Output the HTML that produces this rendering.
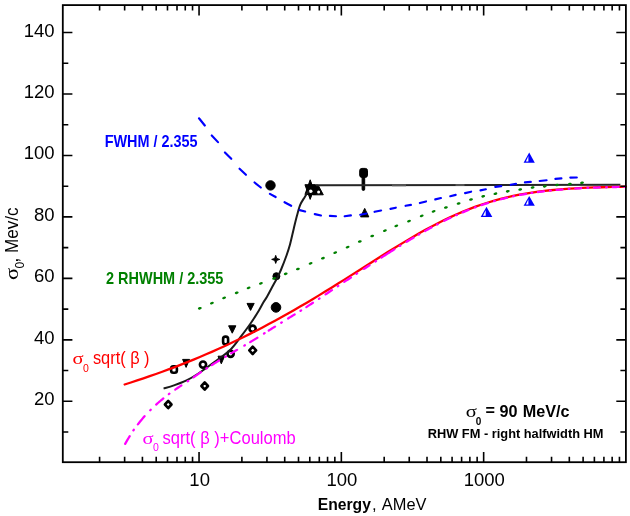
<!DOCTYPE html><html><head><meta charset="utf-8"><title>sigma0 vs Energy</title><style>html,body{margin:0;padding:0;background:#fff;}svg{display:block;will-change:transform;filter:blur(0.3px);}text{font-family:"Liberation Sans",Arial,sans-serif;}</style></head><body>
<svg width="630" height="516" viewBox="0 0 630 516">
<rect width="630" height="516" fill="#fff"/>
<g fill="#000" stroke="#000" stroke-width="1" stroke-linejoin="round"><circle cx="270.5" cy="185.4" r="4.7"/><polygon points="310.20,179.80 315.46,194.50 304.94,194.50"/><polygon points="315.46,184.70 310.20,199.40 304.94,184.70"/><polygon points="312.5,185.2 318.2,185.2 323.3,194.8 312.5,194.8"/><rect x="359.7" y="168.4" width="7.8" height="9" rx="2.2"/><rect x="362.1" y="176" width="2.6" height="14.4" rx="1.2"/><polygon points="364.70000000000005,208.4 368.8,216.9 360.6,216.9"/><polygon points="275.70,255.40 276.69,258.41 279.70,259.40 276.69,260.39 275.70,263.40 274.71,260.39 271.70,259.40 274.71,258.41"/><circle cx="276.4" cy="276.2" r="3.5"/><circle cx="276" cy="307.4" r="4.8"/><polygon points="247,303.4 254.2,303.4 250.6,310.4"/><polygon points="228.6,325.8 235.9,325.8 232.25,333.2"/><polygon points="182.6,359.4 189.6,359.4 186.1,367.4"/><polygon points="218,356.2 224.6,356.2 221.3,363.8"/></g><g fill="#fff"><circle cx="310.7" cy="191.3" r="1.8"/><circle cx="318.6" cy="192" r="1.5"/></g><g fill="#fff" stroke="#000" stroke-width="2.6" stroke-linejoin="round"><rect x="171.1" y="366.2" width="5.8" height="6.6" rx="2.2"/><rect x="223.1" y="336.6" width="5" height="7.8" rx="2.3"/><circle cx="203" cy="364.6" r="3.1"/><circle cx="252.6" cy="328.7" r="3.1"/><circle cx="230.6" cy="353.8" r="3.1"/><polygon points="204.7,382.4 208.0,386.0 204.7,389.6 201.39999999999998,386.0"/><polygon points="168.2,400.9 171.5,404.5 168.2,408.1 164.89999999999998,404.5"/><polygon points="252.7,346.6 256.09999999999997,350.3 252.7,354.0 249.29999999999998,350.3"/></g><polygon points="486.5,206.8 492.3,217.0 480.7,217.0" fill="#0000ff"/><polygon points="485.70,210.27 485.70,215.80 483.00,215.80" fill="#fff"/><polygon points="529.2,152.6 534.8000000000001,162.8 523.6,162.8" fill="#0000ff"/><polygon points="528.40,156.07 528.40,161.60 525.90,161.60" fill="#fff"/><polygon points="529.2,196.0 534.8000000000001,205.8 523.6,205.8" fill="#0000ff"/><polygon points="528.40,199.33 528.40,204.60 525.90,204.60" fill="#fff"/>
<path d="M163.60 388.60C165.32 388.07 170.08 386.77 173.90 385.40C177.72 384.03 182.42 382.38 186.50 380.40C190.58 378.42 193.82 376.52 198.40 373.50C202.98 370.48 208.67 366.27 214.00 362.30C219.33 358.33 225.87 354.05 230.40 349.70C234.93 345.35 237.82 340.60 241.20 336.20C244.58 331.80 247.75 327.60 250.70 323.30C253.65 319.00 256.80 313.87 258.90 310.40C261.00 306.93 261.95 304.77 263.30 302.50C264.65 300.23 265.33 299.72 267.00 296.80C268.67 293.88 271.62 288.12 273.30 285.00C274.98 281.88 275.80 280.68 277.10 278.10C278.40 275.52 279.53 273.27 281.10 269.50C282.67 265.73 285.02 259.67 286.50 255.50C287.98 251.33 288.78 249.02 290.00 244.50C291.22 239.98 292.63 233.23 293.80 228.40C294.97 223.57 295.93 219.42 297.00 215.50C298.07 211.58 298.95 207.92 300.20 204.90C301.45 201.88 303.08 199.72 304.50 197.40C305.92 195.08 308.00 192.07 308.70 191.00" fill="none" stroke="#1a1a1a" stroke-width="2.0"/>
<path d="M316 185.3L620.4 184.8" fill="none" stroke="#262626" stroke-width="2.1"/>
<path d="M392 185.1H406M455.5 185H464.5" fill="none" stroke="#555" stroke-width="2.1"/>
<path d="M124.64 384.50L130.91 382.50L137.18 380.46L143.44 378.36L149.71 376.20L155.98 374.00L162.24 371.74L168.51 369.42L174.77 367.05L181.04 364.62L187.31 362.14L193.57 359.59L199.84 356.98L206.11 354.31L212.37 351.58L218.64 348.79L224.91 345.93L231.17 343.01L237.44 340.02L243.70 336.97L249.97 333.85L256.24 330.66L262.50 327.41L268.77 324.10L275.04 320.72L281.30 317.28L287.57 313.77L293.84 310.21L300.10 306.59L306.37 302.91L312.63 299.17L318.90 295.39L325.17 291.56L331.43 287.70L337.70 283.79L343.97 279.85L350.23 275.90L356.50 271.92L362.76 267.94L369.03 263.95L375.30 259.98L381.56 256.02L387.83 252.10L394.10 248.22L400.36 244.39L406.63 240.63L412.90 236.94L419.16 233.34L425.43 229.85L431.69 226.46L437.96 223.20L444.23 220.07L450.49 217.09L456.76 214.25L463.03 211.57L469.29 209.05L475.56 206.70L481.82 204.51L488.09 202.48L494.36 200.62L500.62 198.92L506.89 197.37L513.16 195.97L519.42 194.71L525.69 193.59L531.96 192.59L538.22 191.70L544.49 190.92L550.75 190.24L557.02 189.64L563.29 189.12L569.55 188.68L575.82 188.29L582.09 187.96L588.35 187.68L594.62 187.44L600.88 187.24L607.15 187.06L613.42 186.92L619.68 186.80L625.95 186.69" fill="none" stroke="#ff0000" stroke-width="2.3" stroke-linecap="round"/>
<path d="M125.16 443.89L126.30 441.89L127.45 439.93L128.60 438.01L129.74 436.13M137.87 424.37L138.98 422.95L140.09 421.56L141.20 420.20L142.31 418.85L143.42 417.53L144.53 416.23M156.18 404.54L157.20 403.64L158.22 402.76L159.24 401.87L160.26 401.00L161.28 400.13L162.30 399.27L163.32 398.42M175.24 389.61L176.26 388.92L177.28 388.23L178.30 387.54L179.32 386.85L180.34 386.16L181.36 385.48M193.54 377.30L194.60 376.55L195.66 375.80L196.72 375.06L197.78 374.32L198.84 373.59L199.90 372.85L200.96 372.12M211.76 365.09L212.80 364.44L213.84 363.79L214.88 363.14L215.92 362.49L216.96 361.84L218.00 361.19L219.04 360.54M231.18 353.29L232.35 352.60L233.52 351.92L234.68 351.24L235.85 350.56L237.02 349.88M250.17 342.10L251.21 341.48L252.24 340.85L253.28 340.22L254.32 339.60L255.36 338.97L256.39 338.34L257.43 337.71M268.76 330.52L269.81 329.85L270.85 329.19L271.90 328.54L272.95 327.90L273.99 327.25L275.04 326.60M288.07 318.48L289.16 317.81L290.26 317.14L291.35 316.47L292.44 315.80L293.54 315.12L294.63 314.45M306.35 307.09L307.45 306.37L308.55 305.65L309.65 304.92L310.75 304.20L311.85 303.48L312.95 302.76M325.55 294.42L326.61 293.70L327.68 292.98L328.75 292.26L329.82 291.55L330.89 290.83L331.95 290.11M344.25 281.90L345.37 281.16L346.48 280.43L347.60 279.69L348.72 278.96L349.83 278.23L350.95 277.49M363.95 268.93L365.05 268.21L366.15 267.49L367.25 266.77L368.35 266.05L369.45 265.33M381.46 257.53L382.53 256.84L383.61 256.15L384.68 255.46L385.75 254.78L386.83 254.09L387.90 253.41L388.97 252.72L390.05 252.04L391.12 251.36L392.19 250.69L393.27 250.01L394.34 249.33M406.57 241.78L407.58 241.17L408.59 240.56L409.60 239.96L410.60 239.36L411.61 238.76L412.62 238.16L413.63 237.56M425.09 230.97L426.16 230.37L427.23 229.78L428.30 229.19L429.37 228.60L430.44 228.02L431.51 227.44M444.31 220.80L445.32 220.30L446.34 219.80L447.35 219.31L448.36 218.82L449.38 218.34L450.39 217.86M462.63 212.37L463.80 211.87L464.97 211.39L466.13 210.91L467.30 210.43L468.47 209.97M481.55 205.11L482.62 204.75L483.68 204.39L484.75 204.04L485.82 203.69L486.88 203.35L487.95 203.01M501.07 199.23L502.26 198.93L503.45 198.62L504.65 198.33L505.84 198.03L507.03 197.75M520.19 194.94L521.35 194.72L522.52 194.50L523.68 194.29L524.85 194.08L526.01 193.88M537.89 192.06L538.90 191.92L539.90 191.79L540.90 191.66L541.90 191.53L542.90 191.41L543.91 191.29M556.60 189.95L557.78 189.84L558.96 189.74L560.14 189.63L561.32 189.54L562.50 189.44M575.30 188.55L576.48 188.48L577.66 188.41L578.84 188.35L580.02 188.28L581.20 188.22M594.00 187.66L595.18 187.61L596.36 187.57L597.54 187.53L598.72 187.49L599.90 187.45M612.70 187.10L613.88 187.07L615.06 187.05L616.24 187.02L617.42 187.00L618.60 186.98M133.41 430.39L133.60 430.10L133.79 429.81M150.25 410.26L150.50 410.01L150.75 409.77M168.81 394.07L169.10 393.87L169.39 393.67M187.71 381.21L188.00 381.01L188.29 380.82M206.40 368.48L206.70 368.29L207.00 368.11M225.30 356.79L225.60 356.61L225.90 356.43M244.30 345.63L244.60 345.45L244.90 345.27M264.00 333.55L264.30 333.36L264.60 333.17M281.20 322.77L281.50 322.58L281.80 322.40M300.50 310.81L300.80 310.62L301.10 310.44M318.91 298.83L319.20 298.63L319.49 298.44M337.71 286.24L338.00 286.05L338.29 285.85M356.51 273.83L356.80 273.64L357.09 273.44M375.41 261.45L375.70 261.26L375.99 261.07M399.80 245.93L400.10 245.75L400.40 245.56M418.70 234.60L419.00 234.43L419.30 234.25M437.09 224.48L437.40 224.31L437.71 224.15M456.28 215.14L456.60 214.99L456.92 214.85M474.97 207.46L475.30 207.34L475.63 207.22M494.16 201.13L494.50 201.04L494.84 200.94M513.26 196.34L513.60 196.27L513.94 196.19M531.55 192.98L531.90 192.93L532.25 192.87M550.05 190.59L550.40 190.56L550.75 190.52M568.75 188.97L569.10 188.95L569.45 188.92M587.45 187.92L587.80 187.91L588.15 187.89M606.15 187.27L606.50 187.26L606.85 187.25M624.25 186.87L624.60 186.87L624.95 186.86" fill="none" stroke="#ff00ff" stroke-width="2.25" stroke-linecap="round"/>
<g fill="#008000"><ellipse cx="199.8" cy="308.3" rx="2.0" ry="1.25" transform="rotate(-16 199.8 308.3)"/><ellipse cx="211.9" cy="303.1" rx="2.0" ry="1.25" transform="rotate(-16 211.9 303.1)"/><ellipse cx="224.1" cy="297.9" rx="2.0" ry="1.25" transform="rotate(-16 224.1 297.9)"/><ellipse cx="236.7" cy="292.8" rx="2.0" ry="1.25" transform="rotate(-16 236.7 292.8)"/><ellipse cx="248.6" cy="287.9" rx="2.0" ry="1.25" transform="rotate(-16 248.6 287.9)"/><ellipse cx="260.9" cy="283.4" rx="2.0" ry="1.25" transform="rotate(-16 260.9 283.4)"/><ellipse cx="274.1" cy="278.4" rx="2.0" ry="1.25" transform="rotate(-16 274.1 278.4)"/><ellipse cx="285.7" cy="273.8" rx="2.0" ry="1.25" transform="rotate(-16 285.7 273.8)"/><ellipse cx="297.9" cy="269" rx="2.0" ry="1.25" transform="rotate(-16 297.9 269)"/><ellipse cx="310.6" cy="263.4" rx="2.0" ry="1.25" transform="rotate(-16 310.6 263.4)"/><ellipse cx="322.9" cy="258.2" rx="2.0" ry="1.25" transform="rotate(-16 322.9 258.2)"/><ellipse cx="335.2" cy="252.6" rx="2.0" ry="1.25" transform="rotate(-16 335.2 252.6)"/><ellipse cx="347.6" cy="247.1" rx="2.0" ry="1.25" transform="rotate(-16 347.6 247.1)"/><ellipse cx="359.8" cy="241.5" rx="2.0" ry="1.25" transform="rotate(-16 359.8 241.5)"/><ellipse cx="372.2" cy="236" rx="2.0" ry="1.25" transform="rotate(-16 372.2 236)"/><ellipse cx="384.9" cy="230.6" rx="2.0" ry="1.25" transform="rotate(-16 384.9 230.6)"/><ellipse cx="396.3" cy="225.9" rx="2.0" ry="1.25" transform="rotate(-16 396.3 225.9)"/><ellipse cx="409" cy="221.1" rx="2.0" ry="1.25" transform="rotate(-16 409 221.1)"/><ellipse cx="421.7" cy="215.9" rx="2.0" ry="1.25" transform="rotate(-16 421.7 215.9)"/><ellipse cx="433.6" cy="211.4" rx="2.0" ry="1.25" transform="rotate(-16 433.6 211.4)"/><ellipse cx="445.9" cy="207.5" rx="2.0" ry="1.25" transform="rotate(-16 445.9 207.5)"/><ellipse cx="458.6" cy="203.5" rx="2.0" ry="1.25" transform="rotate(-16 458.6 203.5)"/><ellipse cx="471" cy="199.5" rx="2.0" ry="1.25" transform="rotate(-16 471 199.5)"/><ellipse cx="483.2" cy="196.3" rx="2.0" ry="1.25" transform="rotate(-16 483.2 196.3)"/><ellipse cx="495.4" cy="193.7" rx="2.0" ry="1.25" transform="rotate(-16 495.4 193.7)"/><ellipse cx="507.8" cy="191.3" rx="2.0" ry="1.25" transform="rotate(-16 507.8 191.3)"/><ellipse cx="520.2" cy="189.5" rx="2.0" ry="1.25" transform="rotate(-16 520.2 189.5)"/><ellipse cx="532.6" cy="187.5" rx="2.0" ry="1.25" transform="rotate(-16 532.6 187.5)"/><ellipse cx="544.8" cy="186.3" rx="2.0" ry="1.25" transform="rotate(-16 544.8 186.3)"/><ellipse cx="557" cy="185" rx="2.0" ry="1.25" transform="rotate(-16 557 185)"/><ellipse cx="569.8" cy="184" rx="2.0" ry="1.25" transform="rotate(-16 569.8 184)"/><ellipse cx="582" cy="182.8" rx="2.0" ry="1.25" transform="rotate(-16 582 182.8)"/></g>
<path d="M199.01 118.29L204.79 125.51M211.74 135.47L217.96 142.13M224.95 152.46L231.25 158.84M239.56 168.74L245.94 174.76M254.59 182.51L260.81 187.49M269.94 193.84L275.66 197.06M284.54 202.24L291.16 205.76M299.69 210.12L305.11 211.48M314.79 214.11L320.91 215.49M329.90 215.93L336.00 216.27M344.70 216.23L350.90 215.37M360.29 214.70L366.51 213.50M374.59 211.80L381.11 210.50M390.49 208.89L395.81 207.71M405.59 205.81L410.91 204.89M419.88 203.07L426.02 201.43M435.29 199.38L440.91 198.02M450.29 196.19L455.71 194.91M465.09 193.09L471.11 191.71M480.49 190.40L485.81 189.30M495.30 186.84L501.20 186.06M510.69 184.81L516.01 183.89M524.90 182.36L530.80 181.94M539.70 180.95L546.60 180.25M555.40 178.86L561.40 178.44M570.30 177.59L576.80 177.51" fill="none" stroke="#0000ff" stroke-width="2.15" stroke-linecap="round"/>
<path d="M99.59 462.2V456.8M99.59 5.1V10.5M124.64 462.2V456.8M124.64 5.1V10.5M142.42 462.2V456.8M142.42 5.1V10.5M156.21 462.2V456.8M156.21 5.1V10.5M167.48 462.2V456.8M167.48 5.1V10.5M177.01 462.2V456.8M177.01 5.1V10.5M185.26 462.2V456.8M185.26 5.1V10.5M192.54 462.2V456.8M192.54 5.1V10.5M199.05 462.2V451.9M199.05 5.1V15.4M241.89 462.2V456.8M241.89 5.1V10.5M266.94 462.2V456.8M266.94 5.1V10.5M284.72 462.2V456.8M284.72 5.1V10.5M298.51 462.2V456.8M298.51 5.1V10.5M309.78 462.2V456.8M309.78 5.1V10.5M319.31 462.2V456.8M319.31 5.1V10.5M327.56 462.2V456.8M327.56 5.1V10.5M334.84 462.2V456.8M334.84 5.1V10.5M341.35 462.2V451.9M341.35 5.1V15.4M384.19 462.2V456.8M384.19 5.1V10.5M409.24 462.2V456.8M409.24 5.1V10.5M427.02 462.2V456.8M427.02 5.1V10.5M440.81 462.2V456.8M440.81 5.1V10.5M452.08 462.2V456.8M452.08 5.1V10.5M461.61 462.2V456.8M461.61 5.1V10.5M469.86 462.2V456.8M469.86 5.1V10.5M477.14 462.2V456.8M477.14 5.1V10.5M483.65 462.2V451.9M483.65 5.1V15.4M526.49 462.2V456.8M526.49 5.1V10.5M551.54 462.2V456.8M551.54 5.1V10.5M569.32 462.2V456.8M569.32 5.1V10.5M583.11 462.2V456.8M583.11 5.1V10.5M594.38 462.2V456.8M594.38 5.1V10.5M603.91 462.2V456.8M603.91 5.1V10.5M612.16 462.2V456.8M612.16 5.1V10.5M619.44 462.2V456.8M619.44 5.1V10.5M62.8 432.03H68.3M625.9 432.03H620.4M62.8 401.30H72.39999999999999M625.9 401.30H616.3M62.8 370.57H68.3M625.9 370.57H620.4M62.8 339.84H72.39999999999999M625.9 339.84H616.3M62.8 309.11H68.3M625.9 309.11H620.4M62.8 278.38H72.39999999999999M625.9 278.38H616.3M62.8 247.65H68.3M625.9 247.65H620.4M62.8 216.92H72.39999999999999M625.9 216.92H616.3M62.8 186.19H68.3M625.9 186.19H620.4M62.8 155.46H72.39999999999999M625.9 155.46H616.3M62.8 124.73H68.3M625.9 124.73H620.4M62.8 94.00H72.39999999999999M625.9 94.00H616.3M62.8 63.27H68.3M625.9 63.27H620.4M62.8 32.54H72.39999999999999M625.9 32.54H616.3" stroke="#000" stroke-width="1.6" fill="none"/>
<rect x="62.8" y="5.1" width="563.10" height="457.10" fill="none" stroke="#000" stroke-width="1.8"/>
<text x="54.60" y="405.30" font-size="18.5" text-anchor="end">20</text>
<text x="54.60" y="343.84" font-size="18.5" text-anchor="end">40</text>
<text x="54.60" y="282.38" font-size="18.5" text-anchor="end">60</text>
<text x="54.60" y="220.92" font-size="18.5" text-anchor="end">80</text>
<text x="54.60" y="159.46" font-size="18.5" text-anchor="end">100</text>
<text x="54.60" y="98.00" font-size="18.5" text-anchor="end">120</text>
<text x="54.60" y="36.54" font-size="18.5" text-anchor="end">140</text>
<text x="199.65" y="485.70" font-size="18.5" text-anchor="middle">10</text>
<text x="341.95" y="485.70" font-size="18.5" text-anchor="middle">100</text>
<text x="484.25" y="485.70" font-size="18.5" text-anchor="middle">1000</text>
<text transform="translate(317.80 510.20) scale(0.945 1)" font-size="16.6" font-weight="bold">Energy</text>
<text x="372.00" y="510.20" font-size="16.6">,</text>
<text transform="translate(381.80 510.20) scale(0.989 1)" font-size="16.6">AMeV</text>
<g transform="translate(17.8 279.9) rotate(-90)"><text transform="translate(0.00 0.00) scale(1.25 1)" font-size="18" style="font-family:'Liberation Serif',serif">σ</text><text x="11.40" y="5.90" font-size="12">0</text><text transform="translate(17.40 0.00) scale(0.95 1)" font-size="18">, Mev/c</text></g>
<text transform="translate(104.70 146.80) scale(0.902 1)" font-size="16" font-weight="bold" fill="#0000ff">FWHM / 2.355</text>
<text transform="translate(106.00 283.50) scale(0.905 1)" font-size="16" font-weight="bold" fill="#008000">2 RHWHM / 2.355</text>
<text transform="translate(72.60 364.40) scale(1.27 1)" font-size="16.2" style="font-family:'Liberation Serif',serif" fill="#ff0000">σ</text>
<text x="83.00" y="372.10" font-size="10.5" fill="#ff0000">0</text>
<text transform="translate(92.90 364.20) scale(0.91 1)" font-size="18" fill="#ff0000">sqrt( β )</text>
<text transform="translate(142.40 443.90) scale(1.27 1)" font-size="16.2" style="font-family:'Liberation Serif',serif" fill="#ff00ff">σ</text>
<text x="152.90" y="451.00" font-size="10.5" fill="#ff00ff">0</text>
<text transform="translate(162.50 443.50) scale(0.92 1)" font-size="18" fill="#ff00ff">sqrt( β )+Coulomb</text>
<text transform="translate(465.70 416.80) scale(1.27 1)" font-size="16.2" style="font-family:'Liberation Serif',serif">σ</text>
<text x="475.70" y="424.60" font-size="10" font-weight="bold">0</text>
<text x="485.50" y="416.10" font-size="16.2" font-weight="bold">=</text>
<text x="499.40" y="416.50" font-size="16.2" font-weight="bold">90</text>
<text x="522.80" y="416.50" font-size="16.2" font-weight="bold">MeV/c</text>
<text transform="translate(427.70 438.10) scale(0.979 1)" font-size="13.1" font-weight="bold">RHW FM - right halfwidth HM</text>
</svg></body></html>
